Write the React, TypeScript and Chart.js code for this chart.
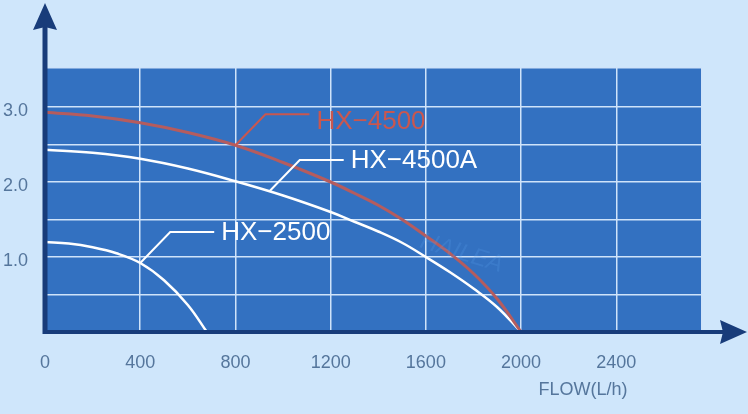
import React, { useRef, useEffect } from "react";
import { Chart, registerables } from "chart.js";

Chart.register(...registerables);

// pump curves: flow (L/h) vs head (m)
const hx4500Flow = [0, 200, 400, 600, 800, 1000, 1200, 1300, 1400, 1500, 1600, 1700, 1800, 1900, 2000];
const hx4500Head = [2.93, 2.88, 2.79, 2.66, 2.49, 2.26, 2.0, 1.85, 1.69, 1.5, 1.28, 1.05, 0.78, 0.44, 0];

const hx4500aFlow = [0, 200, 400, 600, 800, 1000, 1200, 1300, 1400, 1500, 1600, 1700, 1800, 1900, 2000];
const hx4500aHead = [2.43, 2.39, 2.31, 2.18, 2.01, 1.82, 1.6, 1.47, 1.34, 1.19, 1.0, 0.8, 0.58, 0.33, 0];

const hx2500Flow = [0, 100, 200, 300, 400, 500, 600, 680];
const hx2500Head = [1.2, 1.18, 1.13, 1.05, 0.92, 0.69, 0.36, 0];

const seriesNames = ["HX\u22124500", "HX\u22124500A", "HX\u22122500"];
const labelAnchorFlow = [800, 944, 400];
const labelAnchorHead = [2.49, 1.88, 0.92];

const xTicks = [0, 400, 800, 1200, 1600, 2000, 2400];
const yTicks = [0, 0.5, 1.0, 1.5, 2.0, 2.5, 3.0];
const yLabelled = [1.0, 2.0, 3.0];
const xMax = 2760;
const yMax = 3.52;

const toPoints = (xs: number[], ys: number[]) => xs.map((x, i) => ({ x, y: ys[i] }));

const FONT = '"Liberation Sans", Arial, sans-serif';
const AXIS_COLOR = "#183c7a";
const labelColors = ["#c9574f", "#ffffff", "#ffffff"];
const labelTextDy = [8, 1, 1];

const overlay = {
  id: "overlay",
  beforeDraw(chart: any) {
    const { ctx, chartArea: a } = chart;
    ctx.save();
    ctx.fillStyle = "#cfe6fb";
    ctx.fillRect(0, 0, chart.width, chart.height);
    ctx.fillStyle = "#3371c1";
    ctx.fillRect(a.left, a.top, a.right - a.left, a.bottom - a.top);
    ctx.restore();
  },
  afterDatasetsDraw(chart: any) {
    const { ctx } = chart;
    const xs = chart.scales.x;
    const ys = chart.scales.y;

    // faint watermark
    ctx.save();
    ctx.translate(xs.getPixelForValue(1750), ys.getPixelForValue(1.05));
    ctx.rotate(0.3);
    ctx.fillStyle = "rgba(90,160,235,0.22)";
    ctx.font = `italic 24px ${FONT}`;
    ctx.textAlign = "center";
    ctx.textBaseline = "middle";
    ctx.fillText("HAILEA", 0, 0);
    ctx.restore();

    // leader lines + series names
    seriesNames.forEach((name, i) => {
      const px = xs.getPixelForValue(labelAnchorFlow[i]);
      const py = ys.getPixelForValue(labelAnchorHead[i]);
      ctx.save();
      ctx.strokeStyle = labelColors[i];
      ctx.lineWidth = 2;
      ctx.beginPath();
      ctx.moveTo(px, py);
      ctx.lineTo(px + 30, py - 31);
      ctx.lineTo(px + 74, py - 31);
      ctx.stroke();
      ctx.fillStyle = labelColors[i];
      ctx.font = `26px ${FONT}`;
      ctx.textBaseline = "middle";
      ctx.fillText(name, px + 81, py - 31 + labelTextDy[i]);
      ctx.restore();
    });
  },
  afterDraw(chart: any) {
    const { ctx, chartArea: a } = chart;
    ctx.save();
    ctx.strokeStyle = AXIS_COLOR;
    ctx.fillStyle = AXIS_COLOR;
    ctx.lineWidth = 5;
    // y axis
    ctx.beginPath();
    ctx.moveTo(a.left, a.bottom + 2);
    ctx.lineTo(a.left, 26);
    ctx.stroke();
    ctx.beginPath();
    ctx.moveTo(a.left, 3);
    ctx.lineTo(a.left + 12, 30);
    ctx.lineTo(a.left, 27);
    ctx.lineTo(a.left - 12, 30);
    ctx.closePath();
    ctx.fill();
    // x axis
    ctx.lineWidth = 4;
    ctx.beginPath();
    ctx.moveTo(a.left - 2, a.bottom);
    ctx.lineTo(724, a.bottom);
    ctx.stroke();
    ctx.beginPath();
    ctx.moveTo(747, a.bottom);
    ctx.lineTo(720, a.bottom - 12);
    ctx.lineTo(723, a.bottom);
    ctx.lineTo(720, a.bottom + 12);
    ctx.closePath();
    ctx.fill();
    // axis name
    ctx.fillStyle = "#55769c";
    ctx.font = `18px ${FONT}`;
    ctx.textAlign = "center";
    ctx.textBaseline = "middle";
    ctx.fillText("FLOW(L/h)", 583, 390);
    ctx.restore();
  },
};

const PumpChart: React.FC = () => {
  const canvasRef = useRef<HTMLCanvasElement | null>(null);
  const chartRef = useRef<Chart | null>(null);

  useEffect(() => {
    document.body.style.margin = "0";
    if (!canvasRef.current) return;
    chartRef.current = new Chart(canvasRef.current, {
      type: "line",
      data: {
        datasets: [
          {
            label: seriesNames[0],
            data: toPoints(hx4500Flow, hx4500Head),
            borderColor: "#b55c5e",
            borderWidth: 3,
          },
          {
            label: seriesNames[1],
            data: toPoints(hx4500aFlow, hx4500aHead),
            borderColor: "#ffffff",
            borderWidth: 2.5,
          },
          {
            label: seriesNames[2],
            data: toPoints(hx2500Flow, hx2500Head),
            borderColor: "#ffffff",
            borderWidth: 2.5,
          },
        ],
      },
      options: {
        animation: false,
        responsive: false,
        layout: { padding: { top: 68, right: 46, left: 0, bottom: 0 } },
        elements: {
          point: { radius: 0 },
          line: { tension: 0.4 },
        },
        plugins: {
          legend: { display: false },
          tooltip: { enabled: false },
        },
        scales: {
          x: {
            type: "linear",
            min: 0,
            max: xMax,
            afterBuildTicks: (s: any) => {
              s.ticks = [...xTicks, xMax].map((value) => ({ value }));
            },
            afterFit: (s: any) => {
              s.height = 82;
            },
            border: { display: false },
            grid: { color: "#cfe3fa", lineWidth: 1.5, drawTicks: false },
            ticks: {
              autoSkip: false,
              maxRotation: 0,
              padding: 20,
              color: "#55769c",
              font: { family: FONT, size: 18 },
              callback: (v: any) => (xTicks.includes(Number(v)) ? String(v) : ""),
            },
          },
          y: {
            min: 0,
            max: yMax,
            afterBuildTicks: (s: any) => {
              s.ticks = [...yTicks, yMax].map((value) => ({ value }));
            },
            afterFit: (s: any) => {
              s.width = 45;
            },
            border: { display: false },
            grid: { color: "#cfe3fa", lineWidth: 1.5, drawTicks: false },
            ticks: {
              autoSkip: false,
              padding: 17,
              labelOffset: 4,
              color: "#55769c",
              font: { family: FONT, size: 18 },
              callback: (v: any) => {
                const n = Number(v);
                return yLabelled.includes(n) ? n.toFixed(1) : "";
              },
            },
          },
        },
      },
      plugins: [overlay],
    });
    return () => {
      chartRef.current?.destroy();
    };
  }, []);

  return <canvas ref={canvasRef} width={748} height={414}></canvas>;
};

export default function App() {
  return <PumpChart />;
}
